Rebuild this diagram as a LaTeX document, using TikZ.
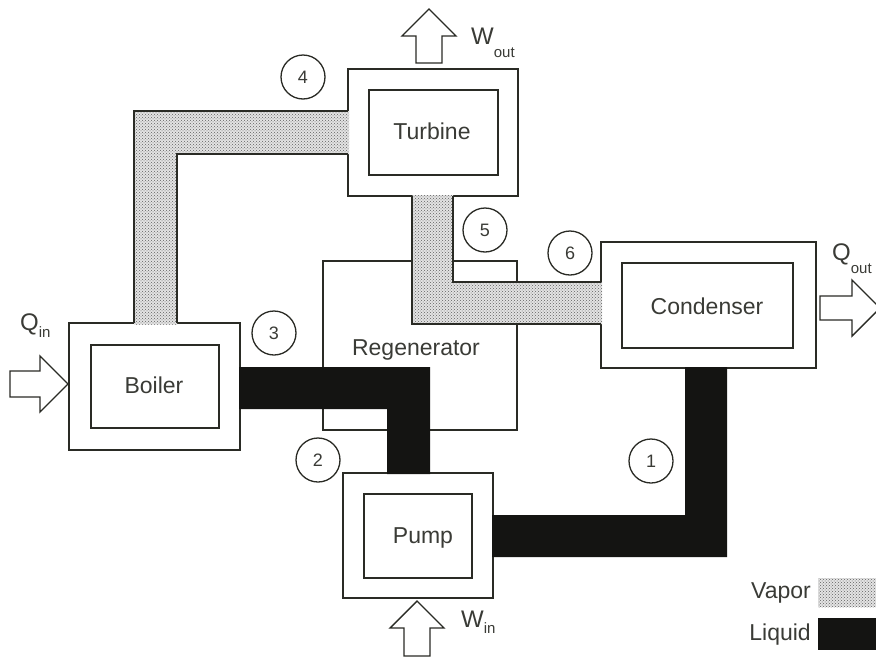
\documentclass[tikz,border=0pt]{standalone}
\usepackage{fontspec}
\setmainfont{Liberation Sans}
\usetikzlibrary{patterns}
\definecolor{ink}{HTML}{2A2B25}
\definecolor{txt}{HTML}{3A3B36}
\definecolor{liq}{HTML}{141412}
\tikzset{
  box/.style={draw=ink, line width=1.4pt, fill=white, inner sep=0pt, rectangle},
  lbl/.style={text=txt, font=\fontsize{23}{27}\selectfont, anchor=base, inner sep=0pt},
  num/.style={draw=ink, line width=1.3pt, circle, minimum size=44pt, inner sep=0pt, text=txt, font=\fontsize{18}{18}\selectfont},
  vapor/.style={preaction={fill=gray!22}, pattern=crosshatch dots, pattern color=gray!75!black},
  liquid/.style={fill=liq},
  pipeedge/.style={draw=ink, line width=1.4pt},
  hollow/.style={draw=ink, line width=1.4pt, fill=white, line join=miter},
  sym/.style={text=txt, anchor=base west, inner sep=0pt}
}
\newcommand{\bigsym}[1]{{\fontsize{24}{24}\selectfont #1}}
\newcommand{\smallsub}[2]{\raisebox{-#1pt}{\fontsize{15}{15}\selectfont #2}}
\begin{document}
\begin{tikzpicture}[x=1pt,y=-1pt]
\useasboundingbox[fill=white] (0,0) rectangle (876,659);
% regenerator
\node[box, fill=none, minimum width=194pt, minimum height=169pt] (regen) at (420,345.5) {};
\node[lbl] (regentxt) at (416,355) {Regenerator};
% boiler
\node[box, minimum width=171pt, minimum height=127pt] (boiler) at (154.5,386.5) {};
\node[box, minimum width=128pt, minimum height=83pt] (boilerin) at (155,386.5) {};
\node[lbl] (boilertxt) at (154,393) {Boiler};
% turbine
\node[box, minimum width=170pt, minimum height=127pt] (turbine) at (433,132.5) {};
\node[box, minimum width=129pt, minimum height=85pt] (turbinein) at (433.5,132.5) {};
\node[lbl] (turbinetxt) at (432,139) {Turbine};
% condenser
\node[box, minimum width=215pt, minimum height=126pt] (cond) at (708.5,305) {};
\node[box, minimum width=171pt, minimum height=85pt] (condin) at (707.5,305.5) {};
\node[lbl] (condtxt) at (707,314) {Condenser};
% pump
\node[box, minimum width=150pt, minimum height=125pt] (pump) at (418,535.5) {};
\node[box, minimum width=108pt, minimum height=84pt] (pumpin) at (418,536) {};
\node[lbl] (pumptxt) at (423,543) {Pump};
% vapor pipe 4 (boiler -> turbine)
\fill[vapor] (134,324.5) -- (134,111) -- (349,111) -- (349,154) -- (177,154) -- (177,324.5) -- cycle;
\draw[pipeedge] (134,323) -- (134,111) -- (348,111);
\draw[pipeedge] (348,154) -- (177,154) -- (177,323);
% vapor pipe 5-6 (turbine -> condenser)
\fill[vapor] (412,195) -- (412,324) -- (602,324) -- (602,282) -- (453,282) -- (453,195) -- cycle;
\draw[pipeedge] (412,196) -- (412,324) -- (601,324);
\draw[pipeedge] (453,196) -- (453,282) -- (601,282);
% liquid pipe 3 (pump -> boiler through regenerator)
\fill[liquid] (239,367) -- (430,367) -- (430,474) -- (387,474) -- (387,409) -- (239,409) -- cycle;
% liquid pipe 1 (condenser -> pump)
\fill[liquid] (492,515) -- (685,515) -- (685,367) -- (727,367) -- (727,557) -- (492,557) -- cycle;
% state numbers
\node[num] (n1) at (651,461) {1};
\node[num] (n2) at (318,460) {2};
\node[num] (n3) at (274,333) {3};
\node[num] (n4) at (303,77) {4};
\node[num] (n5) at (485,230) {5};
\node[num] (n6) at (570,253) {6};
% energy arrows
\draw[hollow] (68,384) -- (40,356) -- (40,371) -- (10,371) -- (10,397) -- (40,397) -- (40,412) -- cycle;
\draw[hollow] (880,308) -- (852,280) -- (852,296) -- (820,296) -- (820,320) -- (852,320) -- (852,336) -- cycle;
\draw[hollow] (429,9) -- (456,36) -- (442,36) -- (442,63) -- (416,63) -- (416,36) -- (402,36) -- cycle;
\draw[hollow] (417,601) -- (444,628) -- (430,628) -- (430,656) -- (404,656) -- (404,628) -- (390,628) -- cycle;
% energy labels
\node[sym] (qin) at (20,330) {\bigsym{Q}\smallsub{7}{in}};
\node[sym] (qout) at (832,260) {\bigsym{Q}\smallsub{13}{out}};
\node[sym] (wout) at (471,44) {\bigsym{W}\smallsub{13}{out}};
\node[sym] (win) at (461,627) {\bigsym{W}\smallsub{6}{in}};
% legend
\node[lbl, anchor=base east] (vaportxt) at (811,598) {Vapor};
\node[lbl, anchor=base east] (liquidtxt) at (811,640) {Liquid};
\node[vapor, minimum width=62pt, minimum height=29pt, inner sep=0pt, anchor=north west] (vaporsw) at (818,578) {};
\node[liquid, minimum width=62pt, minimum height=32pt, inner sep=0pt, anchor=north west] (liquidsw) at (818,618) {};
\end{tikzpicture}
\end{document}
